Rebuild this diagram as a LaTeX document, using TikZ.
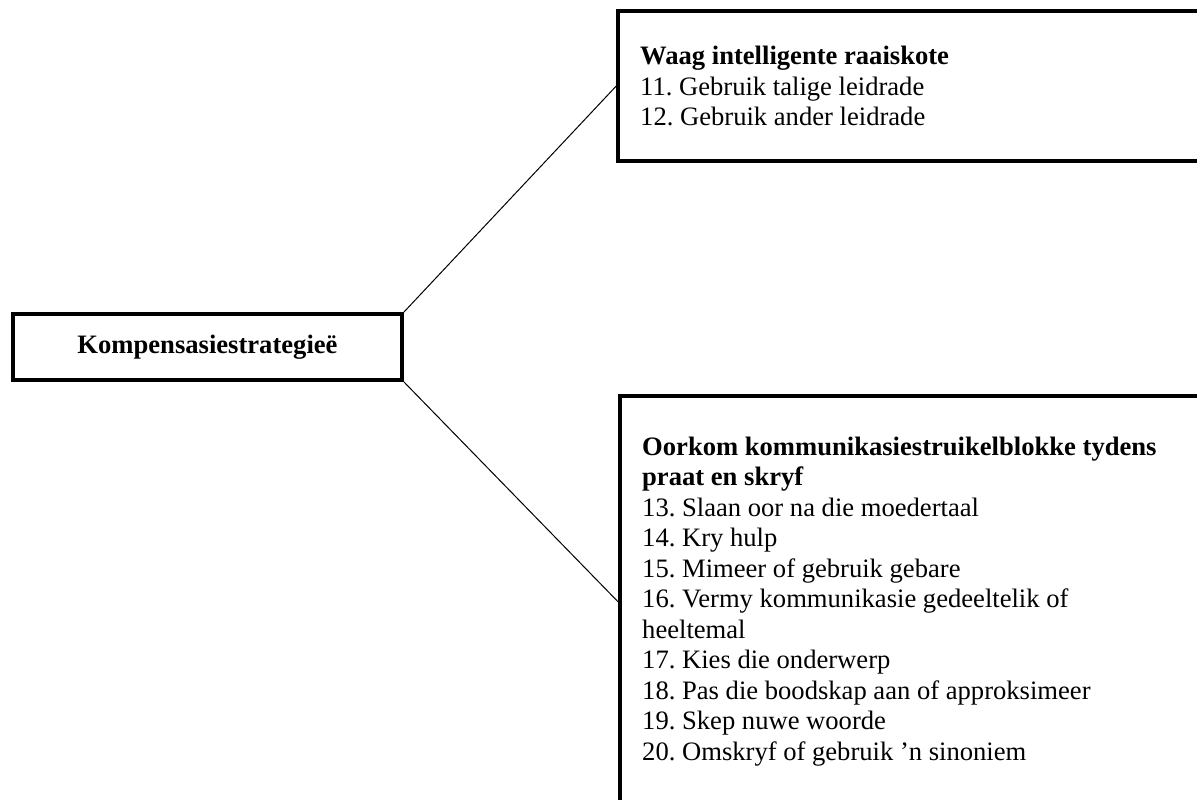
\documentclass[tikz,border=0pt]{standalone}
\usepackage{fontspec}
\setmainfont{Liberation Serif}
\frenchspacing
\begin{document}
\begin{tikzpicture}[x=1pt,y=-1pt,
  frame/.style={draw=black, line width=3.5pt, rectangle, inner sep=0pt, fill=none},
  link/.style={draw=black, line width=1pt},
  listtext/.style={anchor=base west, inner sep=0pt, font=\fontsize{26.6}{30.5}\selectfont}]
  \useasboundingbox (0,0) rectangle (1197,800);
  \clip (0,0) rectangle (1197,800);
  % central box
  \node[frame, minimum width=389pt, minimum height=66pt,
        font=\fontsize{26.6}{30.5}\selectfont\bfseries] (root) at (207.5,347)
        {\raisebox{-2pt}{Kompensasiestrategieë}};
  % upper box (runs past the right edge)
  \node[frame, minimum width=592pt, minimum height=150pt] (guess) at (914,86) {};
  % lower box (runs past the right and lower edges)
  \node[frame, minimum width=590pt, minimum height=412pt] (overcome) at (915,602) {};
  % texts of the boxes
  \node[listtext] (guesstext) at (640,65) {\parbox[t]{540pt}{\raggedright
    \textbf{Waag intelligente raaiskote}\\
    11. Gebruik talige leidrade\\
    12. Gebruik ander leidrade}};
  \node[listtext] (overcometext) at (642,455) {\parbox[t]{540pt}{\raggedright
    \textbf{Oorkom kommunikasiestruikelblokke tydens}\\
    \textbf{praat en skryf}\\
    13. Slaan oor na die moedertaal\\
    14. Kry hulp\\
    15. Mimeer of gebruik gebare\\
    16. Vermy kommunikasie gedeeltelik of\\
    heeltemal\\
    17. Kies die onderwerp\\
    18. Pas die boodskap aan of approksimeer\\
    19. Skep nuwe woorde\\
    20. Omskryf of gebruik ’n sinoniem}};
  % connectors
  \draw[link] (root.north east) -- (guess.west);
  \draw[link] (root.south east) -- (overcome.west);
\end{tikzpicture}
\end{document}
